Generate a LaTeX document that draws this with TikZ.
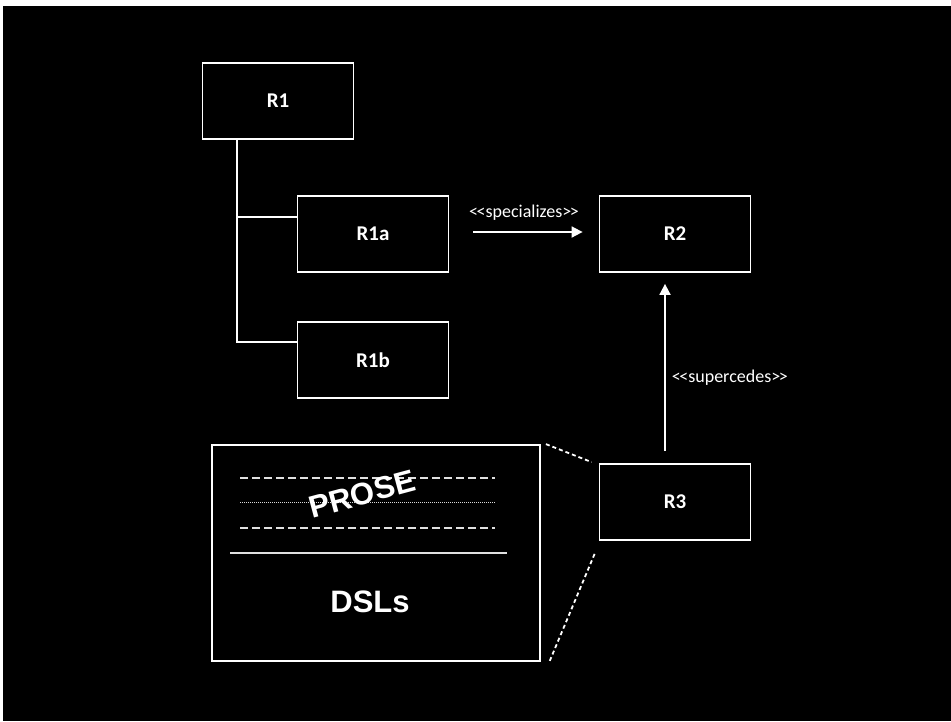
\documentclass[tikz,border=0pt]{standalone}
\usepackage{fontspec}
\setmainfont{Carlito}
\newfontfamily\headfont{Liberation Sans}
\usetikzlibrary{arrows.meta,calc}

% guillemet-free stereotype brackets, set tight
\newcommand{\stereo}[1]{<\kern-1.5pt<#1>\kern-1.5pt>}

\tikzset{
  fg/.style={draw=white, line width=1.8pt},
  reqbox/.style={fg, fill=black, rectangle, minimum width=151pt, minimum height=76pt,
                 inner sep=0pt, text=white, font=\fontsize{21}{21}\selectfont\bfseries},
  tree/.style={draw=white, line width=1.8pt},
  rel/.style={draw=white, line width=1.8pt, -{Triangle[length=11pt,width=11pt]}},
  rellabel/.style={text=white, inner sep=0pt, font=\fontsize{18}{18}\selectfont},
  leader/.style={draw=white, line width=1.8pt, dash pattern=on 4pt off 3pt},
  rule/.style={draw=white!88!black, line width=1.4pt},
}

\begin{document}
\begin{tikzpicture}[x=1pt, y=-1pt]
  % canvas
  \useasboundingbox (0,0) rectangle (951,721);
  \fill[white] (0,0) rectangle (951,721);
  \fill[black] (3,6) rectangle (951,721);

  % requirement boxes
  \node[reqbox] (R1)  at (278,101) {R1};
  \node[reqbox] (R1a) at (373,234) {R1a};
  \node[reqbox] (R1b) at (373,360) {R1b};
  \node[reqbox] (R2)  at (675,234) {R2};
  \node[reqbox] (R3)  at (675,502) {R3};

  % hierarchy of R1
  \coordinate (trunk) at ([xshift=35pt]R1.south west);
  \coordinate (ja) at ([yshift=17pt]R1a.west);
  \coordinate (jb) at ([yshift=18pt]R1b.west);
  \draw[tree] (trunk) |- (jb);
  \draw[tree] (trunk |- ja) -- (ja);

  % relations
  \draw[rel, shorten <=24pt, shorten >=16pt] ([yshift=2pt]R1a.east) -- ([yshift=2pt]R2.west)
    node[rellabel, midway, yshift=19pt] (spec) {\stereo{specializes}};
  \draw[rel, shorten <=12pt, shorten >=11pt] ([xshift=-10pt]R3.north) -- ([xshift=-10pt]R2.south)
    node[rellabel, midway, anchor=west, xshift=6pt, yshift=-10pt] (sup) {\stereo{supercedes}};

  % document box: prose over DSLs
  \node[fg, rectangle, minimum width=328pt, minimum height=216pt, inner sep=0pt] (doc) at (376,553) {};
  \draw[rule, dash pattern=on 8pt off 4pt] (240,478) -- (495,478);
  \draw[draw=white!85!black, line width=1pt, dash pattern=on 1pt off 1pt] (240,502) -- (495,502);
  \draw[rule, dash pattern=on 8pt off 4pt] (240,528) -- (495,528);
  \draw[rule, line width=1.8pt] (230,553) -- (507,553);
  \node[text=white, rotate=15, inner sep=0pt, font=\headfont\bfseries\fontsize{31}{31}\selectfont] (prose) at (362,494) {PROSE};
  \node[text=white, inner sep=0pt, font=\headfont\bfseries\fontsize{31}{31}\selectfont] (dsls) at (370,602) {DSLs};

  % zoom leaders from R3 to the document box
  \draw[leader] ($(doc.north east)+(5,0)$) -- ($(R3.north west)+(-7,-1)$);
  \draw[leader] ($(R3.south west)+(-4,13)$) -- ($(doc.south east)+(8,1)$);
\end{tikzpicture}
\end{document}
